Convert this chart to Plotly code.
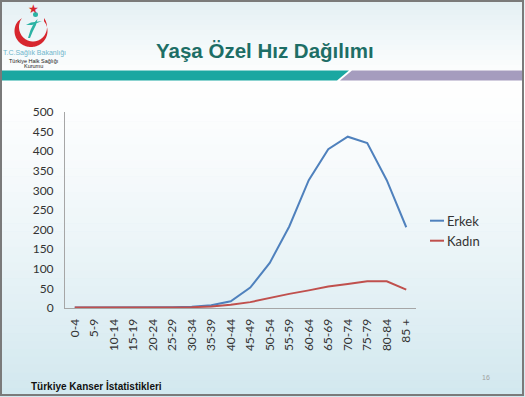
import numpy as np
import plotly.graph_objects as go

categories = ["0-4", "5-9", "10-14", "15-19", "20-24", "25-29", "30-34", "35-39",
              "40-44", "45-49", "50-54", "55-59", "60-64", "65-69", "70-74",
              "75-79", "80-84", "85 +"]
erkek = [1, 1, 1, 1, 1, 2, 3, 7, 17, 52, 115, 208, 326, 405, 437, 421, 326, 206]
kadin = [1, 1, 1, 1, 1, 1, 2, 4, 8, 15, 26, 36, 45, 55, 61, 68, 68, 47]
y_ticks = [0, 50, 100, 150, 200, 250, 300, 350, 400, 450, 500]

W, H = 525, 397
ML, MR, MT, MB = 65, 109, 112, 89
PW = W - ML - MR
PH = H - MT - MB


def px(x):
    return (x - ML) / PW


def py(y):
    return (H - MB - y) / PH


BLUE = "#4F81BD"
RED = "#C0504D"

fig = go.Figure()
fig.add_trace(go.Scatter(x=categories, y=erkek, mode="lines", name="Erkek",
                         line=dict(color=BLUE, width=2), showlegend=False))
fig.add_trace(go.Scatter(x=categories, y=kadin, mode="lines", name="Kadın",
                         line=dict(color=RED, width=2), showlegend=False))

shapes = []
# background gradient (body)
top_c = np.array([255, 255, 255])
bot_c = np.array([0xD2, 0xE8, 0xEF])
n = 40
y0, y1 = 82, 396
for i in range(n):
    a = y0 + (y1 - y0) * i / n
    b = y0 + (y1 - y0) * (i + 1) / n
    t = ((i + 0.5) / n) ** 1.3
    c = top_c + (bot_c - top_c) * t
    shapes.append(dict(type="rect", xref="paper", yref="paper", layer="below",
                       x0=px(0), x1=px(W), y0=py(a), y1=py(b + 0.5),
                       line=dict(width=0), fillcolor="rgb(%d,%d,%d)" % tuple(c)))
# header gradient
h_top = np.array([0xE4, 0xF0, 0xF4])
for i in range(14):
    a = 70 * i / 14
    b = 70 * (i + 1) / 14
    t = (i + 0.5) / 14
    c = h_top + (np.array([252, 254, 254]) - h_top) * t
    shapes.append(dict(type="rect", xref="paper", yref="paper", layer="below",
                       x0=px(0), x1=px(W), y0=py(a), y1=py(b + 0.5),
                       line=dict(width=0), fillcolor="rgb(%d,%d,%d)" % tuple(c)))
shapes.append(dict(type="rect", xref="paper", yref="paper", layer="below",
                   x0=px(0), x1=px(W), y0=py(70), y1=py(82),
                   line=dict(width=0), fillcolor="white"))


def poly(pts):
    d = "M " + " L ".join("%f,%f" % (px(x), py(y)) for x, y in pts) + " Z"
    return d


# teal bar and purple bar
shapes.append(dict(type="path", xref="paper", yref="paper", layer="below",
                   path=poly([(0, 70.5), (349, 70.5), (337, 80.5), (0, 80.5)]),
                   line=dict(width=0), fillcolor="#1AA7A1"))
shapes.append(dict(type="path", xref="paper", yref="paper", layer="below",
                   path=poly([(352, 70.5), (524, 70.5), (524, 80.5), (340, 80.5)]),
                   line=dict(width=0), fillcolor="#A59CBE"))

# logo crescent
th_o = np.radians(np.linspace(218, -38, 80))
outer = [(31 + 16.5 * np.cos(t), 31 + 16 * np.sin(t)) for t in th_o]
th_i = np.radians(np.linspace(-38, 218, 80))
inner = [(33 + 14 * np.cos(t), 27 + 14.5 * np.sin(t)) for t in th_i]
shapes.append(dict(type="path", xref="paper", yref="paper", layer="below",
                   path=poly(outer + inner), line=dict(width=0), fillcolor="#D7262E"))
# figure in logo
fig_pts = [(28, 38), (30.5, 30), (34, 23), (37.5, 19), (36, 25), (32.5, 32), (30, 38)]
shapes.append(dict(type="path", xref="paper", yref="paper", layer="below",
                   path=poly(fig_pts), line=dict(width=0), fillcolor="#2BB3A4"))
shapes.append(dict(type="circle", xref="paper", yref="paper", layer="below",
                   x0=px(33), x1=px(38), y0=py(12), y1=py(17),
                   line=dict(width=0), fillcolor="#2BB3A4"))
shapes.append(dict(type="path", xref="paper", yref="paper", layer="below",
                   path=poly([(26, 25), (31, 22.5), (42, 21), (32, 25)]),
                   line=dict(width=0), fillcolor="#2BB3A4"))

# custom legend
for yy, col in [(220.7, BLUE), (240.7, RED)]:
    shapes.append(dict(type="line", xref="paper", yref="paper",
                       x0=px(430), x1=px(444), y0=py(yy), y1=py(yy),
                       line=dict(color=col, width=2)))

# slide border
shapes.append(dict(type="rect", xref="paper", yref="paper",
                   x0=px(1), x1=px(523), y0=py(1), y1=py(395),
                   line=dict(color="#7A7A7A", width=2)))

ann = []
ann.append(dict(text="<b>Yaşa Özel Hız Dağılımı</b>", xref="paper", yref="paper",
                x=px(265), y=py(51), showarrow=False, xanchor="center", yanchor="middle",
                font=dict(family="Liberation Sans", size=20.5, color="#1D6E66")))
ann.append(dict(text="★", xref="paper", yref="paper", x=px(33), y=py(8),
                xanchor="center", yanchor="middle",
                showarrow=False, font=dict(size=12, color="#D7262E")))
ann.append(dict(text="T.C.Sağlık Bakanlığı", xref="paper", yref="paper", x=px(34), y=py(53),
                xanchor="center", yanchor="middle",
                showarrow=False, font=dict(family="Liberation Sans", size=7, color="#6FB6CC")))
ann.append(dict(text="Türkiye Halk Sağlığı", xref="paper", yref="paper", x=px(33), y=py(60.5),
                xanchor="center", yanchor="middle",
                showarrow=False, font=dict(family="Liberation Sans", size=5.5, color="#222")))
ann.append(dict(text="Kurumu", xref="paper", yref="paper", x=px(33), y=py(66.5),
                xanchor="center", yanchor="middle",
                showarrow=False, font=dict(family="Liberation Sans", size=5.5, color="#222")))
ann.append(dict(text="Erkek", xref="paper", yref="paper", x=px(445), y=py(220.7),
                xanchor="left", yanchor="middle", showarrow=False,
                font=dict(family="Lato", size=13, color="#333333")))
ann.append(dict(text="Kadın", xref="paper", yref="paper", x=px(445), y=py(240.7),
                xanchor="left", yanchor="middle", showarrow=False,
                font=dict(family="Lato", size=13, color="#333333")))
ann.append(dict(text="<b>Türkiye Kanser İstatistikleri</b>", xref="paper", yref="paper",
                x=px(29), y=py(386), xanchor="left", yanchor="middle", showarrow=False,
                font=dict(family="Liberation Sans", size=10, color="#111111")))
ann.append(dict(text="16", xref="paper", yref="paper", x=px(486), y=py(377),
                xanchor="center", yanchor="middle", showarrow=False,
                font=dict(family="Liberation Sans", size=7, color="#A0A0A0")))

fig.update_layout(
    width=W, height=H,
    margin=dict(l=ML, r=MR, t=MT, b=MB, pad=0),
    paper_bgcolor="#D2E8EF",
    plot_bgcolor="rgba(0,0,0,0)",
    shapes=shapes,
    annotations=ann,
    showlegend=False,
    xaxis=dict(type="category", range=[-0.5, 17.5], showgrid=False, zeroline=False,
               showline=True, linecolor="#A6A6A6", linewidth=1, ticks="",
               tickangle=-90, ticklabelstandoff=5,
               tickfont=dict(family="Lato", size=12, color="#333333")),
    yaxis=dict(range=[0, 500], tickvals=y_ticks, showgrid=False, zeroline=False,
               showline=True, linecolor="#A6A6A6", linewidth=1, ticks="",
               ticklabelstandoff=8,
               tickfont=dict(family="Lato", size=12, color="#333333")),
)

fig.write_html("out.html")
